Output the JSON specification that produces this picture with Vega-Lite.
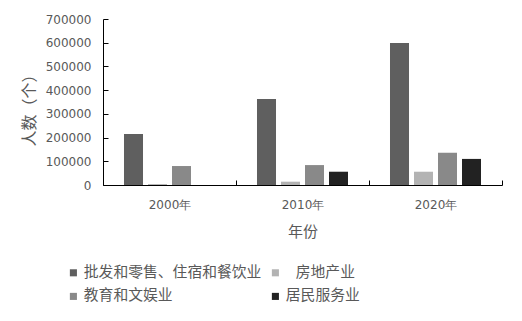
{
  "$schema": "https://vega.github.io/schema/vega-lite/v6.json",
  "width": 399,
  "height": 166,
  "autosize": {"type": "none"},
  "padding": {"left": 103, "top": 19, "right": 20, "bottom": 136},
  "background": "white",
  "config": {
    "view": {"stroke": null},
    "font": "Noto Sans CJK SC",
    "axis": {"grid": false, "domainColor": "#000000", "tickColor": "#000000", "labelColor": "#595959", "titleColor": "#595959", "labelFontSize": 13, "titleFontWeight": "normal"}
  },
  "data": {
    "values": [
      {"year": "2000年", "industry": "批发和零售、住宿和餐饮业", "value": 215000},
      {"year": "2000年", "industry": "房地产业", "value": 4000},
      {"year": "2000年", "industry": "教育和文娱业", "value": 80000},
      {"year": "2000年", "industry": "居民服务业", "value": 0},
      {"year": "2010年", "industry": "批发和零售、住宿和餐饮业", "value": 363000},
      {"year": "2010年", "industry": "房地产业", "value": 14000},
      {"year": "2010年", "industry": "教育和文娱业", "value": 84000},
      {"year": "2010年", "industry": "居民服务业", "value": 56000},
      {"year": "2020年", "industry": "批发和零售、住宿和餐饮业", "value": 599000},
      {"year": "2020年", "industry": "房地产业", "value": 56000},
      {"year": "2020年", "industry": "教育和文娱业", "value": 136000},
      {"year": "2020年", "industry": "居民服务业", "value": 110000}
    ]
  },
  "mark": {"type": "bar"},
  "encoding": {
    "x": {
      "field": "year", "type": "nominal", "title": "年份",
      "scale": {"paddingInner": 0, "paddingOuter": 0},
      "axis": {"labelAngle": 0, "tickBand": "extent", "tickSize": -5, "labelPadding": 19, "titleFontSize": 15, "titlePadding": 14, "labelFont": "DejaVu Sans", "labelFontSize": 12}
    },
    "xOffset": {
      "field": "industry", "type": "nominal",
      "sort": ["批发和零售、住宿和餐饮业", "房地产业", "教育和文娱业", "居民服务业"],
      "scale": {"paddingInner": 0.208, "paddingOuter": 0.875}
    },
    "y": {
      "field": "value", "type": "quantitative", "title": "人数（个）",
      "scale": {"domain": [0, 700000], "nice": false},
      "axis": {"values": [0, 100000, 200000, 300000, 400000, 500000, 600000, 700000], "format": "d", "tickSize": -5, "labelPadding": 17, "titleFontSize": 16, "titleX": -66, "titleY": 87, "labelFont": "DejaVu Sans", "labelFontSize": 12}
    },
    "color": {
      "field": "industry", "type": "nominal",
      "sort": ["批发和零售、住宿和餐饮业", "房地产业", "教育和文娱业", "居民服务业"],
      "scale": {"domain": ["批发和零售、住宿和餐饮业", "房地产业", "教育和文娱业", "居民服务业"], "range": ["#5f5f5f", "#b3b3b3", "#898989", "#222222"]},
      "legend": {"title": null, "orient": "none", "legendX": -37, "legendY": 246, "direction": "horizontal", "columns": 2, "symbolType": "square", "symbolSize": 50, "symbolStrokeWidth": 0, "labelFontSize": 14.8, "labelLimit": 400, "labelColor": "#595959", "rowPadding": 8, "columnPadding": 6, "labelOffset": 3, "labelExpr": "datum.label == '房地产业' ? '\u200b\u00a0\u00a0\u00a0房地产业' : datum.label"}
    }
  }
}
